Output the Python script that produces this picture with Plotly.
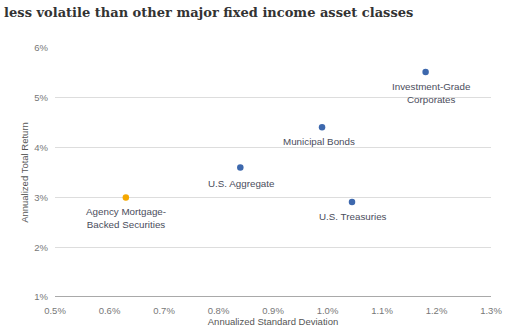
import plotly.graph_objects as go

# Risk/return by asset class
asset_classes = ["Agency Mortgage-<br>Backed Securities", "U.S. Aggregate", "Municipal Bonds",
                 "U.S. Treasuries", "Investment-Grade<br>Corporates"]
std_dev = [0.63, 0.84, 0.99, 1.045, 1.18]      # annualized standard deviation, %
total_return = [3.0, 3.6, 4.41, 2.91, 5.52]    # annualized total return, %
point_colors = ["#f5a800", "#3d68ad", "#3d68ad", "#3d68ad", "#3d68ad"]
label_shift = [-21, -16, -14, -15, -21]
label_xshift = [0, 1, -3, 1, 6]

x_ticks = [0.5, 0.6, 0.7, 0.8, 0.9, 1.0, 1.1, 1.2, 1.3]
x_tick_text = ["0.5%", "0.6%", "0.7%", "0.8%", "0.9%", "1.0%", "1.1%", "1.2%", "1.3%"]
y_ticks = [1, 2, 3, 4, 5, 6]
y_tick_text = ["1%", "2%", "3%", "4%", "5%", "6%"]

fig = go.Figure()
fig.add_trace(go.Scatter(
    x=std_dev, y=total_return, mode="markers",
    marker=dict(size=6.5, color=point_colors),
    hoverinfo="skip", showlegend=False,
))

for name, xv, yv, ys, xs in zip(asset_classes, std_dev, total_return, label_shift, label_xshift):
    fig.add_annotation(
        x=xv, y=yv, text=name, showarrow=False, yshift=ys, xshift=xs,
        align="center", font=dict(family="Liberation Sans", size=9.8, color="#4a4d5c"),
    )

fig.update_layout(
    width=514, height=330,
    margin=dict(l=55, r=23, t=48, b=33),
    paper_bgcolor="white", plot_bgcolor="white",
    title=dict(
        text="<b>less volatile than other major fixed income asset classes</b>",
        x=0.008, xanchor="left", y=0.963, yanchor="middle",
        font=dict(family="DejaVu Serif", size=13, color="#333333"),
    ),
    xaxis=dict(
        range=[0.5, 1.3], tickvals=x_ticks, ticktext=x_tick_text,
        showgrid=False, zeroline=False, showline=False, ticks="",
        ticklabelstandoff=6, automargin=False,
        tickfont=dict(family="Liberation Sans", size=9.5, color="#777777"),
        title=dict(text="Annualized Standard Deviation", standoff=3,
                   font=dict(family="Liberation Sans", size=9.5, color="#555555")),
    ),
    yaxis=dict(
        range=[1, 6], tickvals=y_ticks, ticktext=y_tick_text,
        showgrid=True, gridcolor="#dddddd", gridwidth=1,
        zeroline=False, showline=False, ticks="", ticklabelstandoff=6,
        automargin=False,
        tickfont=dict(family="Liberation Sans", size=9.5, color="#777777"),
        title=dict(text="Annualized Total Return", standoff=3,
                   font=dict(family="Liberation Sans", size=9.5, color="#555555")),
    ),
)

# Baseline at 1% drawn darker than the gridlines
fig.add_hline(y=1, line=dict(color="#8c8c8c", width=1.5), layer="below")

fig.write_html("out.html")
